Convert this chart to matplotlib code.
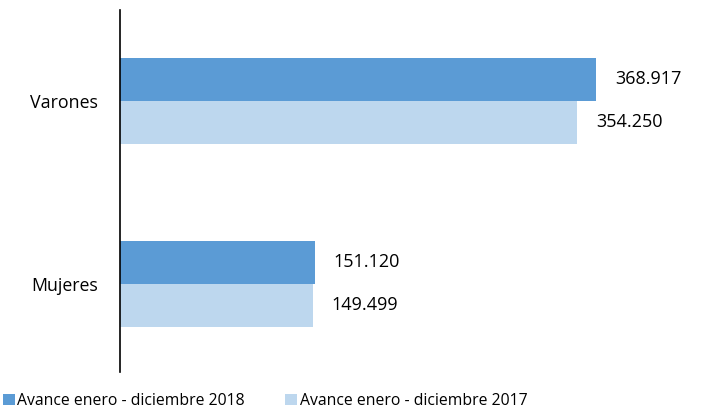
import matplotlib.pyplot as plt
import numpy as np

categorias = ["Mujeres", "Varones"]
series = ["Avance enero - diciembre 2018", "Avance enero - diciembre 2017"]
valores_2018 = [151120, 368917]
valores_2017 = [149499, 354250]
etiquetas_2018 = ["151.120", "368.917"]
etiquetas_2017 = ["149.499", "354.250"]

plt.rcParams['font.family'] = ['Open Sans', 'DejaVu Sans']
fs = 13

fig = plt.figure(figsize=(7.03, 4.18), dpi=100)
ax = fig.add_axes([120/703, 1-372/418, 580/703, 362/418])

y = np.arange(len(categorias))
h = 0.235
b1 = ax.barh(y + h/2, valores_2018, height=h, color="#5B9BD5", label=series[0])
b2 = ax.barh(y - h/2, valores_2017, height=h, color="#BDD7EE", label=series[1])

for bar, txt in zip(b1, etiquetas_2018):
    ax.annotate(txt, (bar.get_width(), bar.get_y() + bar.get_height()/2),
                xytext=(13.5, 0), textcoords="offset points", va="center", ha="left", fontsize=fs)
for bar, txt in zip(b2, etiquetas_2017):
    ax.annotate(txt, (bar.get_width(), bar.get_y() + bar.get_height()/2),
                xytext=(13.5, 0), textcoords="offset points", va="center", ha="left", fontsize=fs)

ax.set_xlim(0, 449500)
ax.set_ylim(-0.481, 1.497)
ax.set_yticks(y)
ax.set_yticklabels(categorias, fontsize=12.8)
ax.tick_params(axis="y", length=0, pad=16)
ax.set_xticks([])
for s in ["top", "right", "bottom"]:
    ax.spines[s].set_visible(False)
ax.spines["left"].set_linewidth(1.2)

fig.legend(handles=[b1, b2], loc="lower left", bbox_to_anchor=(-0.016, -0.012), ncol=2,
           frameon=False, fontsize=11.3, handlelength=0.75, handleheight=0.75,
           handletextpad=0.15, columnspacing=2.6)

fig.savefig("out.png", dpi=100)
